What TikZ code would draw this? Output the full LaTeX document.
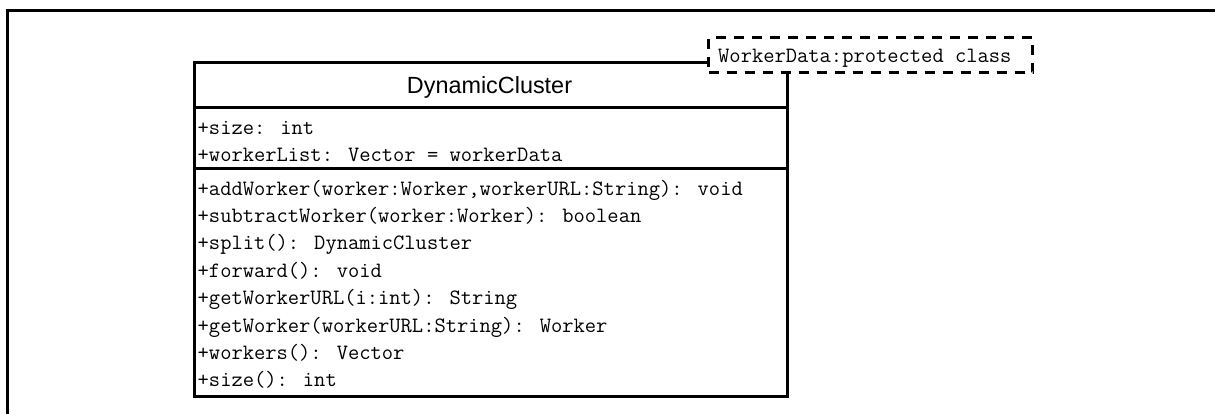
\documentclass[tikz,border=0pt]{standalone}
\usepackage{fontspec}
\newfontfamily\umlsans{Liberation Sans}
\tikzset{
  framepen/.style={line width=3pt},
  classbox/.style={draw, line width=3pt, fill=white, anchor=north west, inner sep=0pt,
    minimum width=593pt, minimum height=334pt},
  notebox/.style={draw, line width=3pt, fill=white, dash pattern=on 10pt off 8pt,
    anchor=north west, inner sep=0pt, minimum width=324pt, minimum height=35pt},
  member/.style={anchor=base west, inner sep=0pt, font=\ttfamily\fontsize{21.9}{26}\selectfont},
  classname/.style={anchor=base, inner sep=0pt, font=\umlsans\fontsize{23.4}{28}\selectfont},
  seppen/.style={line width=3pt}
}
\begin{document}
\begin{tikzpicture}[x=1pt,y=-1pt]
\useasboundingbox (0,0) rectangle (1215,413);
\clip (0,0) rectangle (1215,413);
\draw[framepen] (7,430) -- (7,10) -- (1230,10);
\node[classbox] (cls) at (193,61) {};
\coordinate (hs) at (0,107);
\coordinate (as) at (0,168);
\draw[seppen] (cls.west |- hs) -- (cls.east |- hs);
\draw[seppen] (cls.west |- as) -- (cls.east |- as);
\node[classname] (cname) at (489.5,93) {DynamicCluster};
\node[member] (a1) at (197.5,134) {+size: int};
\node[member] (a2) at (197.5,161.5) {+workerList: Vector = workerData};
\node[member] (m1) at (197.5,195) {+addWorker(worker:Worker,workerURL:String): void};
\node[member] (m2) at (197.5,222.4) {+subtractWorker(worker:Worker): boolean};
\node[member] (m3) at (197.5,249.8) {+split(): DynamicCluster};
\node[member] (m4) at (197.5,277.2) {+forward(): void};
\node[member] (m5) at (197.5,304.6) {+getWorkerURL(i:int): String};
\node[member] (m6) at (197.5,332) {+getWorker(workerURL:String): Worker};
\node[member] (m7) at (197.5,359.4) {+workers(): Vector};
\node[member] (m8) at (197.5,386.8) {+size(): int};
\node[notebox] (note) at (707,36) {};
\node[member] (notetext) at (718,62) {WorkerData:protected class};
\end{tikzpicture}
\end{document}
